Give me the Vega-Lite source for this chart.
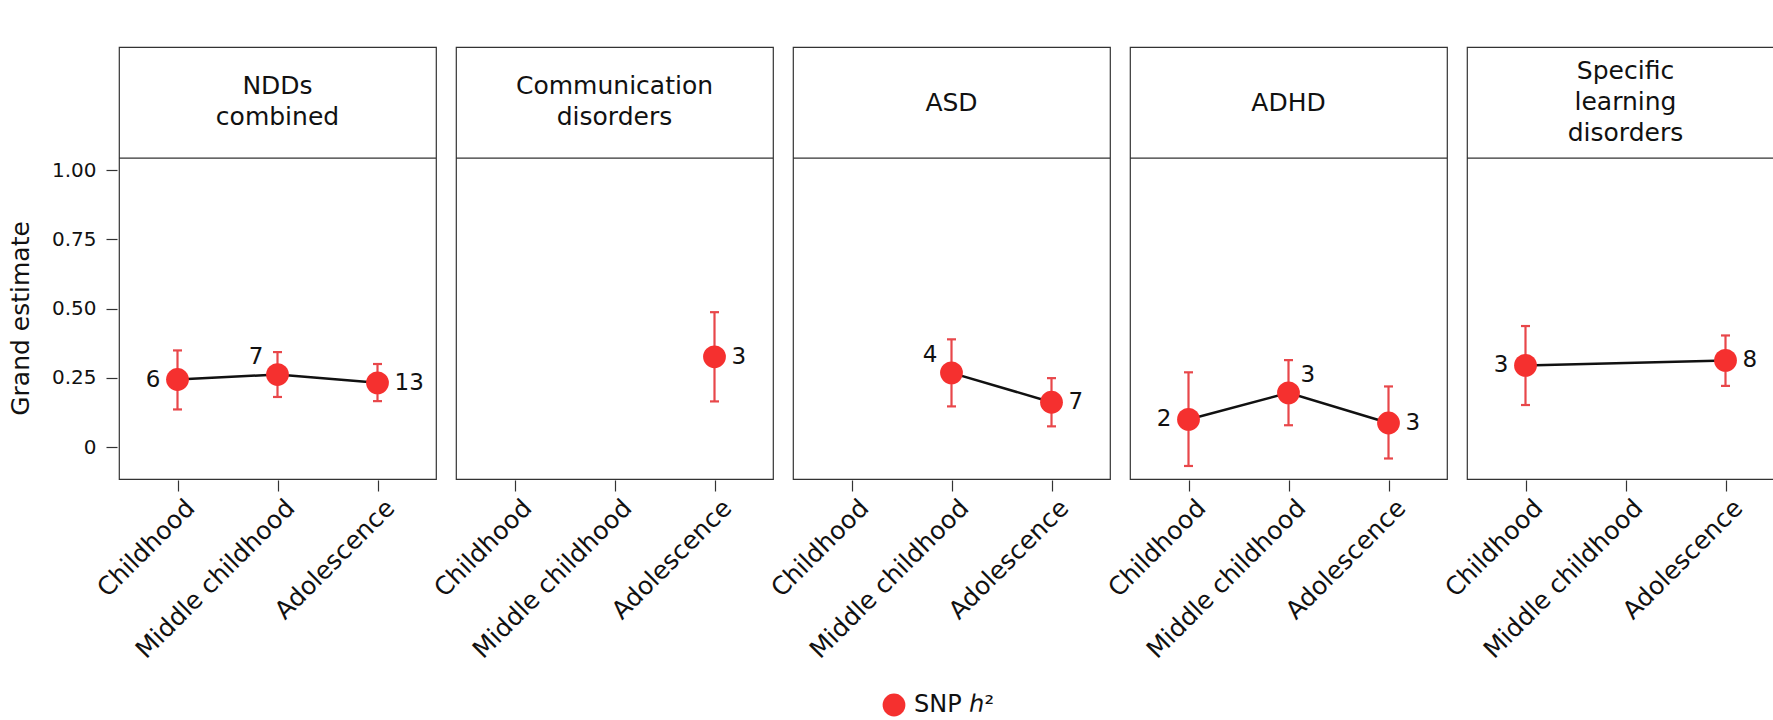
{
  "$schema": "https://vega.github.io/schema/vega-lite/v6.json",
  "padding": {"left": 8, "top": 46, "right": 2, "bottom": 2},
  "background": "white",
  "data": {
    "values": [
      {"panel": "NDDs combined", "stage": "Childhood", "est": 0.244, "lo": 0.136, "hi": 0.349, "n": 6},
      {"panel": "NDDs combined", "stage": "Middle childhood", "est": 0.262, "lo": 0.181, "hi": 0.343, "n": 7},
      {"panel": "NDDs combined", "stage": "Adolescence", "est": 0.232, "lo": 0.166, "hi": 0.300, "n": 13},
      {"panel": "Communication disorders", "stage": "Adolescence", "est": 0.326, "lo": 0.165, "hi": 0.487, "n": 3},
      {"panel": "ASD", "stage": "Middle childhood", "est": 0.268, "lo": 0.147, "hi": 0.389, "n": 4},
      {"panel": "ASD", "stage": "Adolescence", "est": 0.162, "lo": 0.075, "hi": 0.249, "n": 7},
      {"panel": "ADHD", "stage": "Childhood", "est": 0.100, "lo": -0.068, "hi": 0.270, "n": 2},
      {"panel": "ADHD", "stage": "Middle childhood", "est": 0.196, "lo": 0.079, "hi": 0.314, "n": 3},
      {"panel": "ADHD", "stage": "Adolescence", "est": 0.087, "lo": -0.041, "hi": 0.219, "n": 3},
      {"panel": "Specific learning disorders", "stage": "Childhood", "est": 0.295, "lo": 0.152, "hi": 0.437, "n": 3},
      {"panel": "Specific learning disorders", "stage": "Adolescence", "est": 0.313, "lo": 0.221, "hi": 0.403, "n": 8}
    ]
  },
  "facet": {
    "column": {
      "field": "panel",
      "type": "nominal",
      "title": null,
      "sort": ["NDDs combined", "Communication disorders", "ASD", "ADHD", "Specific learning disorders"],
      "header": {"labels": false, "title": null, "labelPadding": 0, "titlePadding": 0}
    }
  },
  "spacing": 16,
  "spec": {
    "width": 317,
    "height": 432,
    "encoding": {
      "x": {
        "field": "stage",
        "type": "nominal",
        "sort": ["Childhood", "Middle childhood", "Adolescence"],
        "scale": {"type": "point", "domain": ["Childhood", "Middle childhood", "Adolescence"], "padding": 0.585},
        "axis": {
          "title": null,
          "domain": false,
          "ticks": true,
          "tickSize": 11,
          "tickColor": "#333333",
          "tickWidth": 1.2,
          "labelAngle": -45,
          "labelAlign": "right",
          "labelBaseline": "top",
          "labelFontSize": 25,
          "labelColor": "#111111",
          "labelPadding": 4,
          "labelOffset": 4,
          "labelLimit": 0,
          "grid": false
        }
      },
      "y": {
        "field": "est",
        "type": "quantitative",
        "title": "Grand estimate",
        "scale": {"domain": [-0.115, 1.444], "nice": false, "zero": false},
        "axis": {
          "title": "Grand estimate",
          "values": [0, 0.25, 0.5, 0.75, 1],
          "labelExpr": "datum.value == 0 ? '0' : format(datum.value, '.2f')",
          "grid": false,
          "domain": false,
          "tickSize": 11,
          "tickColor": "#333333",
          "tickWidth": 1.2,
          "labelFontSize": 20,
          "labelColor": "#111111",
          "labelPadding": 10,
          "titleFontSize": 25,
          "titleFontWeight": "normal",
          "titleColor": "#111111",
          "titlePadding": 18,
          "titleY": 271
        }
      }
    },
    "layer": [
      {
        "transform": [{"filter": "datum.stage == 'Adolescence'"}],
        "mark": {"type": "rule", "color": "#333333", "strokeWidth": 1.2},
        "encoding": {
          "x": null,
          "y": {"datum": 1.043, "type": "quantitative", "title": "Grand estimate"}
        }
      },
      {
        "transform": [{"filter": "datum.stage == 'Adolescence' && length(split(datum.panel, ' ')) == 1"}],
        "mark": {"type": "text", "lineBreak": " ", "fontSize": 25, "lineHeight": 31, "baseline": "middle", "align": "center", "color": "#111111", "dy": 0},
        "encoding": {
          "x": null,
          "y": {"datum": 1.2435, "type": "quantitative", "title": "Grand estimate"},
          "text": {"field": "panel"}
        }
      },
      {
        "transform": [{"filter": "datum.stage == 'Adolescence' && length(split(datum.panel, ' ')) == 2"}],
        "mark": {"type": "text", "lineBreak": " ", "fontSize": 25, "lineHeight": 31, "baseline": "middle", "align": "center", "color": "#111111", "dy": -16.5},
        "encoding": {
          "x": null,
          "y": {"datum": 1.2435, "type": "quantitative", "title": "Grand estimate"},
          "text": {"field": "panel"}
        }
      },
      {
        "transform": [{"filter": "datum.stage == 'Adolescence' && length(split(datum.panel, ' ')) == 3"}],
        "mark": {"type": "text", "lineBreak": " ", "fontSize": 25, "lineHeight": 31, "baseline": "middle", "align": "center", "color": "#111111", "dy": -32},
        "encoding": {
          "x": null,
          "y": {"datum": 1.2435, "type": "quantitative", "title": "Grand estimate"},
          "text": {"field": "panel"}
        }
      },
      {
        "mark": {"type": "rule", "color": "#e8474a", "strokeWidth": 2.2},
        "encoding": {
          "y": {"field": "lo", "type": "quantitative", "title": "Grand estimate"},
          "y2": {"field": "hi"}
        }
      },
      {
        "mark": {"type": "tick", "orient": "horizontal", "color": "#e8474a", "size": 9, "thickness": 2.2, "opacity": 1},
        "encoding": {"y": {"field": "lo", "type": "quantitative", "title": "Grand estimate"}}
      },
      {
        "mark": {"type": "tick", "orient": "horizontal", "color": "#e8474a", "size": 9, "thickness": 2.2, "opacity": 1},
        "encoding": {"y": {"field": "hi", "type": "quantitative", "title": "Grand estimate"}}
      },
      {
        "mark": {"type": "line", "color": "#111111", "strokeWidth": 2.5}
      },
      {
        "mark": {"type": "point", "shape": "circle", "filled": true, "size": 520, "opacity": 1},
        "encoding": {
          "color": {
            "datum": "SNP ℎ²",
            "type": "nominal",
            "scale": {"range": ["#f5302f"]},
            "legend": {"title": null, "orient": "none", "legendX": 763, "legendY": 646, "direction": "horizontal"}
          }
        }
      },
      {
        "transform": [{"filter": "datum.stage == 'Childhood'"}],
        "mark": {"type": "text", "align": "right", "baseline": "middle", "dx": -17, "fontSize": 23, "color": "#111111"},
        "encoding": {"text": {"field": "n"}}
      },
      {
        "transform": [{"filter": "datum.stage == 'Adolescence'"}],
        "mark": {"type": "text", "align": "left", "baseline": "middle", "dx": 17, "fontSize": 23, "color": "#111111"},
        "encoding": {"text": {"field": "n"}}
      },
      {
        "transform": [{"filter": "datum.stage == 'Middle childhood' && datum.panel != 'ADHD'"}],
        "mark": {"type": "text", "align": "right", "baseline": "middle", "dx": -14, "dy": -18, "fontSize": 23, "color": "#111111"},
        "encoding": {"text": {"field": "n"}}
      },
      {
        "transform": [{"filter": "datum.stage == 'Middle childhood' && datum.panel == 'ADHD'"}],
        "mark": {"type": "text", "align": "left", "baseline": "middle", "dx": 12, "dy": -18, "fontSize": 23, "color": "#111111"},
        "encoding": {"text": {"field": "n"}}
      }
    ]
  },
  "resolve": {"scale": {"x": "shared", "y": "shared"}},
  "config": {
    "font": "DejaVu Sans",
    "view": {"stroke": "#333333", "strokeWidth": 1.2},
    "legend": {
      "labelFontSize": 24,
      "labelColor": "#111111",
      "symbolSize": 520,
      "symbolType": "circle",
      "symbolStrokeWidth": 0,
      "labelOffset": 8
    }
  }
}
